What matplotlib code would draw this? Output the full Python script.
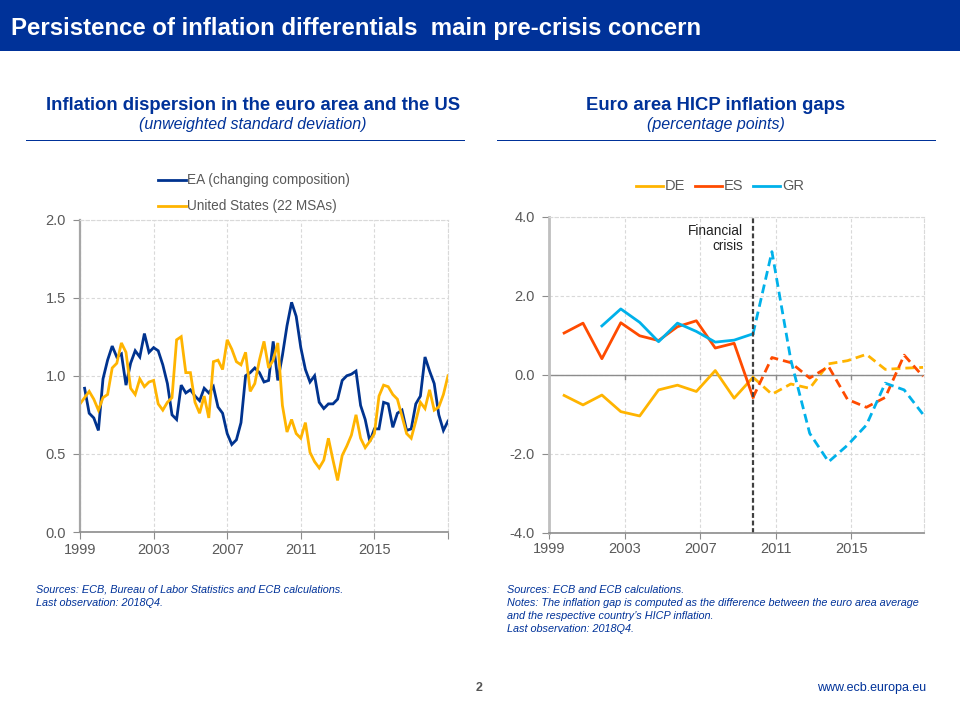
import numpy as np
import matplotlib
matplotlib.use("Agg")
import matplotlib.pyplot as plt
from matplotlib.patches import Rectangle
from matplotlib.lines import Line2D

plt.rcParams['font.family'] = ['Liberation Sans', 'DejaVu Sans']

# left chart, quarterly
ea_dispersion = [None, 0.92, 0.76, 0.73, 0.65, 0.98, 1.10, 1.19, 1.12, 1.14,
                 0.94, 1.08, 1.16, 1.12, 1.27, 1.15, 1.18, 1.16, 1.07, 0.95,
                 0.75, 0.72, 0.94, 0.89, 0.91, 0.87, 0.84, 0.92, 0.89, 0.93,
                 0.80, 0.76, 0.63, 0.56, 0.59, 0.70, 1.00, 1.02, 1.05, 1.02,
                 0.96, 0.97, 1.22, 0.97, 1.13, 1.32, 1.47, 1.38, 1.18, 1.04,
                 0.96, 1.00, 0.83, 0.79, 0.82, 0.82, 0.85, 0.97, 1.00, 1.01,
                 1.03, 0.81, 0.72, 0.58, 0.66, 0.66, 0.83, 0.82, 0.67, 0.76,
                 0.78, 0.65, 0.66, 0.82, 0.87, 1.12, 1.03, 0.95, 0.75, 0.65,
                 0.71]
us_dispersion = [0.82, 0.86, 0.90, 0.85, 0.78, 0.86, 0.88, 1.05, 1.08, 1.21,
                 1.15, 0.92, 0.88, 0.98, 0.93, 0.96, 0.97, 0.82, 0.78, 0.83,
                 0.86, 1.23, 1.25, 1.02, 1.02, 0.83, 0.76, 0.87, 0.73, 1.09,
                 1.10, 1.04, 1.23, 1.17, 1.09, 1.07, 1.15, 0.90, 0.95, 1.10,
                 1.22, 1.05, 1.10, 1.21, 0.81, 0.64, 0.72, 0.63, 0.60, 0.70,
                 0.51, 0.45, 0.41, 0.46, 0.60, 0.46, 0.33, 0.49, 0.55, 0.62,
                 0.75, 0.60, 0.54, 0.58, 0.63, 0.87, 0.94, 0.93, 0.88, 0.85,
                 0.74, 0.63, 0.60, 0.71, 0.83, 0.79, 0.91, 0.78, 0.80, 0.88,
                 1.00]
# right chart, annual
gap_years = np.arange(1999, 2019)
de_gap = [-0.53, -0.77, -0.52, -0.94, -1.05, -0.39, -0.27, -0.43, 0.10, -0.60,
          -0.07, -0.50, -0.24, -0.35, 0.27, 0.35, 0.51, 0.13, 0.16, 0.18]
es_gap = [1.05, 1.30, 0.40, 1.31, 0.98, 0.86, 1.21, 1.36, 0.67, 0.79,
          -0.58, 0.43, 0.30, -0.09, 0.20, -0.63, -0.83, -0.58, 0.49, -0.05]
gr_gap = [None, None, 1.23, 1.66, 1.32, 0.83, 1.30, 1.09, 0.82, 0.87,
          1.03, 3.11, 0.37, -1.49, -2.21, -1.79, -1.28, -0.22, -0.39, -1.01]
crisis_year = 2009

year_ticks = [1999, 2003, 2007, 2011, 2015, 2019]
year_ticks_right = [1999, 2003, 2007, 2011, 2015]

NAVY = '#003299'
BLUE = '#00338f'
YELLOW = '#ffb400'
ORANGE = '#ff4b00'
CYAN = '#00b1ea'
TICK_TXT = '#595959'
W, H = 960, 720


def px_axes(fig, left, top, right, bottom):
    return fig.add_axes([left / W, 1 - bottom / H, (right - left) / W, (bottom - top) / H])


def fig_text(fig, x, y, s, **kw):
    return fig.text(x / W, 1 - y / H, s, **kw)


def style_axes(ax, grid_col='#d9d9d9'):
    ax.grid(True, color=grid_col, linestyle=(0, (3, 2)), linewidth=0.8)
    ax.set_axisbelow(True)
    for side in ['top', 'right']:
        ax.spines[side].set_visible(True)
        ax.spines[side].set_color(grid_col)
        ax.spines[side].set_linestyle((0, (3, 2)))
        ax.spines[side].set_linewidth(0.8)
    ax.spines['left'].set_color('#a6a6a6')
    ax.spines['left'].set_linewidth(1.6)
    ax.spines['bottom'].set_color('#8c8c8c')
    ax.spines['bottom'].set_linewidth(1.2)
    ax.tick_params(axis='both', colors='#8c8c8c', labelcolor=TICK_TXT, labelsize=10.5, length=5)
    ax.tick_params(axis='y', length=5, pad=5)
    ax.tick_params(axis='x', direction='out', pad=3)


fig = plt.figure(figsize=(W / 100, H / 100), dpi=100)

# header band
fig.add_artist(Rectangle((0, 1 - 51 / H), 1, 51 / H, transform=fig.transFigure, color=NAVY, lw=0))
fig_text(fig, 11, 28.5, 'Persistence of inflation differentials  main pre-crisis concern',
         color='white', fontsize=17.25, fontweight='bold', va='center', ha='left')

# panel titles
fig_text(fig, 253, 105, 'Inflation dispersion in the euro area and the US', color=NAVY,
         fontsize=13.3, fontweight='bold', ha='center', va='center')
fig_text(fig, 253, 125, '(unweighted standard deviation)', color=NAVY,
         fontsize=11.5, style='italic', ha='center', va='center')
fig_text(fig, 716, 105, 'Euro area HICP inflation gaps', color=NAVY,
         fontsize=13.3, fontweight='bold', ha='center', va='center')
fig_text(fig, 716, 125, '(percentage points)', color=NAVY,
         fontsize=11.5, style='italic', ha='center', va='center')
for x0, x1 in [(26, 465), (497, 936)]:
    fig.add_artist(Rectangle((x0 / W, 1 - 141 / H), (x1 - x0) / W, 1 / H,
                             transform=fig.transFigure, color=NAVY, lw=0))

# left chart
ax1 = px_axes(fig, 80, 219.5, 448, 532)
t = 1999 + np.arange(len(us_dispersion)) / 4
ea = np.array(ea_dispersion, dtype=float)
ax1.plot(t, ea, color=BLUE, lw=2.0, solid_joinstyle='miter', label='EA (changing composition)')
ax1.plot(t, us_dispersion, color=YELLOW, lw=2.0, solid_joinstyle='miter', label='United States (22 MSAs)')
ax1.set_xlim(1999, 2019)
ax1.set_ylim(0, 2)
ax1.set_xticks(year_ticks)
ax1.set_xticklabels(['1999', '2003', '2007', '2011', '2015', ''])
ax1.set_yticks([0, 0.5, 1, 1.5, 2])
ax1.set_yticklabels(['0.0', '0.5', '1.0', '1.5', '2.0'])
style_axes(ax1)
for y, handle_lab in [(180, 0), (206, 1)]:
    h = ax1.get_lines()[handle_lab]
    fig.add_artist(Line2D([158 / W, 186 / W], [1 - y / H] * 2, color=h.get_color(), lw=2.0))
    fig_text(fig, 187, y, h.get_label(), color=TICK_TXT, fontsize=9.8, va='center', ha='left')

# right chart
ax2 = px_axes(fig, 549, 216.5, 924, 532.5)
xg = gap_years + 0.8
split = list(gap_years).index(crisis_year)
for vals, col, name in [(de_gap, YELLOW, 'DE'), (es_gap, ORANGE, 'ES'), (gr_gap, CYAN, 'GR')]:
    v = np.array(vals, dtype=float)
    ax2.plot(xg[:split + 1], v[:split + 1], color=col, lw=2.0, label=name)
    ax2.plot(xg[split:], v[split:], color=col, lw=2.0, linestyle=(0, (3.2, 1.8)))
ax2.axhline(0, color='#8c8c8c', lw=1.0, zorder=1.5)
ax2.axvline(crisis_year + 0.8, color='#404040', lw=1.6, linestyle=(0, (2.2, 1.2)))
ax2.set_xlim(1999, 2018.85)
ax2.set_ylim(-4, 4)
ax2.set_xticks(year_ticks_right)
ax2.set_yticks([-4, -2, 0, 2, 4])
ax2.set_yticklabels(['-4.0', '-2.0', '0.0', '2.0', '4.0'])
style_axes(ax2)
ax2.spines['left'].set_color('#bfbfbf')
ax2.spines['left'].set_linewidth(2)
ax2.tick_params(axis='x', length=4)
for x in year_ticks_right[1:]:
    ax2.plot([x, x], [0, -0.12], color='#8c8c8c', lw=1, zorder=1.5)
fig_text(fig, 743, 231, 'Financial', color='#222222', fontsize=9.8, ha='right', va='center')
fig_text(fig, 743, 246, 'crisis', color='#222222', fontsize=9.8, ha='right', va='center')
for x0, lab, col in [(636, 'DE', YELLOW), (695, 'ES', ORANGE), (753, 'GR', CYAN)]:
    fig.add_artist(Line2D([x0 / W, (x0 + 27) / W], [1 - 186 / H] * 2, color=col, lw=2.0))
    fig_text(fig, x0 + 29, 186, lab, color=TICK_TXT, fontsize=10.5, va='center', ha='left')

# footnotes
note = dict(color=NAVY, fontsize=7.8, style='italic', va='center', ha='left')
fig_text(fig, 36, 590, 'Sources: ECB, Bureau of Labor Statistics and ECB calculations.', **note)
fig_text(fig, 36, 603, 'Last observation: 2018Q4.', **note)
fig_text(fig, 507, 590, 'Sources: ECB and ECB calculations.', **note)
fig_text(fig, 507, 603, 'Notes: The inflation gap is computed as the difference between the euro area average', **note)
fig_text(fig, 507, 616, "and the respective country\u2019s HICP inflation.", **note)
fig_text(fig, 507, 629, 'Last observation: 2018Q4.', **note)

fig_text(fig, 479, 688, '2', color='#555555', fontsize=9, fontweight='bold', ha='center', va='center')
fig_text(fig, 926, 688, 'www.ecb.europa.eu', color=NAVY, fontsize=9, ha='right', va='center')

fig.savefig('out.png', dpi=100)
